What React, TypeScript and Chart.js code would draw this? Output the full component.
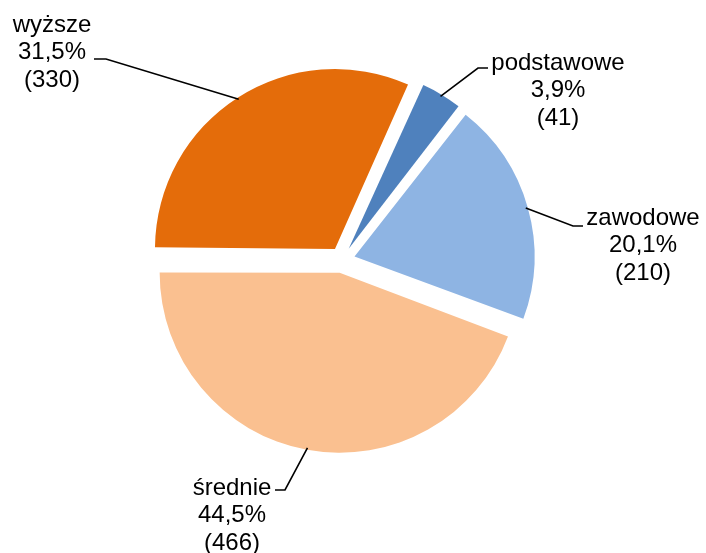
import React, { useEffect, useRef } from 'react';
import { Chart, registerables } from 'chart.js';

Chart.register(...registerables);

const categories = ['podstawowe', 'zawodowe', 'średnie', 'wyższe'];
const counts = [41, 210, 466, 330];
const colors = ['#4F81BD', '#8EB4E3', '#FAC090', '#E46C0A'];

// Label layout relative to the pie centre (layout only, not data)
const labelLayout = [
  { tx: 216, ty: -197, sx: 146, sy: -192, ex: 136, ey: -192 },
  { tx: 301, ty: -42, sx: 241, sy: -34, ex: 231, ey: -34 },
  { tx: -110, ty: 228, sx: -67, sy: 230, ex: -57, ey: 230 },
  { tx: -290, ty: -235, sx: -248, sy: -201, ex: -236, ey: -201 },
];

const OFFSET = 52; // Chart.js translates arcs by offset/4
const RADIUS = 180;

const pieLabels = {
  id: 'pieLabels',
  afterDatasetUpdate(chart: any, args: any) {
    args.meta.data.forEach((arc: any) => {
      const c = arc.circumference ?? arc.endAngle - arc.startAngle;
      const fix = 1 - Math.sin(Math.min(Math.PI, c));
      arc.outerRadius = RADIUS - (OFFSET / 4) * fix;
    });
  },
  afterDatasetsDraw(chart: any) {
    const ctx = chart.ctx as CanvasRenderingContext2D;
    const meta = chart.getDatasetMeta(0);
    const total = counts.reduce((a, b) => a + b, 0);
    ctx.save();
    meta.data.forEach((arc: any, i: number) => {
      const { x, y, startAngle, endAngle } = arc;
      const mid = (startAngle + endAngle) / 2;
      const r = RADIUS + OFFSET / 4 - 2;
      const ax = x + Math.cos(mid) * r;
      const ay = y + Math.sin(mid) * r;
      const L = labelLayout[i];
      ctx.beginPath();
      ctx.moveTo(x + L.sx, y + L.sy);
      ctx.lineTo(x + L.ex, y + L.ey);
      ctx.lineTo(ax, ay);
      ctx.strokeStyle = '#000';
      ctx.lineWidth = 1.6;
      ctx.stroke();
      const pct = ((counts[i] / total) * 100).toFixed(1).replace('.', ',') + '%';
      const lines = [categories[i], pct, `(${counts[i]})`];
      ctx.font = '24px "Liberation Sans", Arial, sans-serif';
      ctx.fillStyle = '#000';
      ctx.textAlign = 'center';
      ctx.textBaseline = 'middle';
      lines.forEach((t, k) => ctx.fillText(t, x + L.tx, y + L.ty + k * 27.5));
    });
    ctx.restore();
  },
};

export default function App() {
  const ref = useRef<HTMLCanvasElement>(null);
  useEffect(() => {
    if (!ref.current) return;
    const chart = new Chart(ref.current, {
      type: 'pie',
      data: {
        labels: categories,
        datasets: [
          {
            data: counts,
            backgroundColor: colors,
            borderWidth: 0,
            offset: OFFSET,
            hoverOffset: 0,
          },
        ],
      },
      options: {
        responsive: false,
        animation: false,
        rotation: 24,
        radius: RADIUS,
        layout: { padding: { left: 0, right: 22, top: 0, bottom: 33 } },
        plugins: {
          legend: { display: false },
          tooltip: { enabled: false },
        },
        events: [],
      },
      plugins: [pieLabels],
    });
    return () => chart.destroy();
  }, []);
  return (
    <div style={{ position: 'absolute', left: 0, top: 0, width: 706, height: 553, background: '#fff' }}>
      <canvas ref={ref} width={706} height={553} />
    </div>
  );
}
